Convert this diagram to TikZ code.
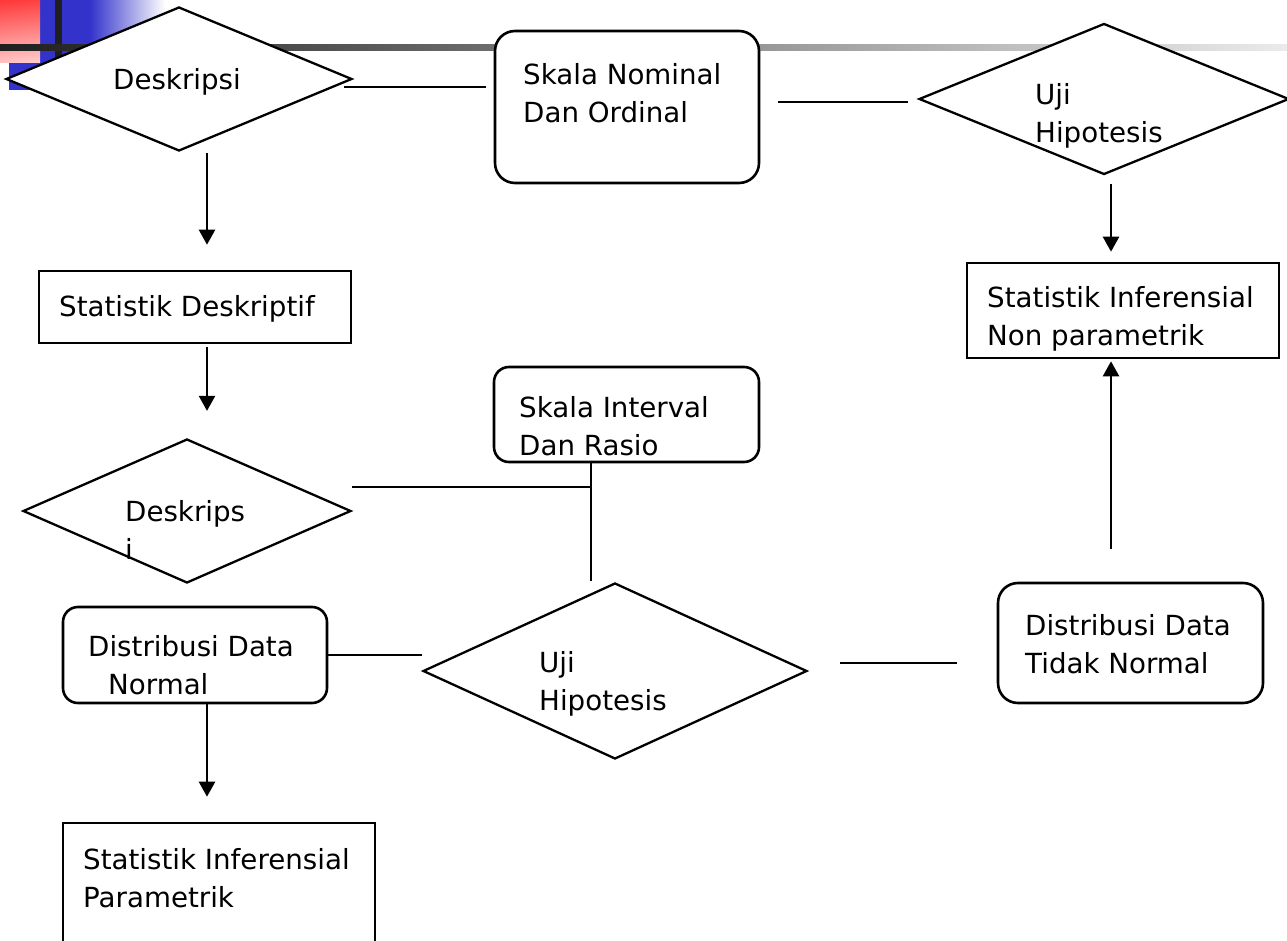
\documentclass[tikz,border=0pt]{standalone}
\usepackage{fontspec}
\setmainfont{DejaVu Sans}
\usetikzlibrary{positioning,shapes,shadings,arrows.meta}
\definecolor{slideblue}{RGB}{51,51,204}
\definecolor{slidered}{RGB}{255,55,55}
\tikzset{
  dec/.style={diamond, draw, fill=white, line width=2.3pt, inner sep=0pt},
  box/.style={rectangle, draw, fill=white, line width=2.6pt, inner sep=0pt},
  rbox/.style={box, rounded corners=20pt},
  txt/.style={anchor=north west, inner sep=0pt, align=left, font=\fontsize{27.7}{38}\selectfont},
  ln/.style={line width=2.4pt},
  arr/.style={line width=2.4pt, -{Triangle[width=16pt,length=15pt]}}
}
\begin{document}
\begin{tikzpicture}[x=1pt,y=-1pt]
\clip (0,0) rectangle (1287,941);
\fill[white] (0,0) rectangle (1287,941);
% slide corner
\fill[slideblue] (9,0) rectangle (90,90);
\shade[left color=slideblue, right color=white] (90,0) rectangle (165,90);
\shade[upper left=slidered, upper right=slidered!95!white, lower left=slidered!30!white, lower right=slidered!25!white] (0,0) rectangle (40,63);
\fill[black!88] (55,0) rectangle (62,62);
\shade[left color=black!88, right color=black!8] (0,45) rectangle (1287,51);

% shapes
\node[dec, minimum width=346, minimum height=144] (d1) at (179,79) {};
\node[rbox, minimum width=264, minimum height=152] (nom) at (627,107) {};
\node[dec, minimum width=370, minimum height=151] (d2) at (1104,99) {};
\node[box, minimum width=312, minimum height=95] (snon) at (1123,310.5) {};
\node[box, minimum width=312, minimum height=72] (sdesk) at (195,307) {};
\node[dec, minimum width=328, minimum height=144] (d4) at (187,511) {};
\node[rbox, rounded corners=15pt, minimum width=265, minimum height=95] (itv) at (626.5,414.5) {};
\node[dec, minimum width=384, minimum height=176] (d3) at (615,671) {};
\node[rbox, rounded corners=15pt, minimum width=264, minimum height=96] (dnorm) at (195,655) {};
\node[rbox, minimum width=265, minimum height=120] (dtnorm) at (1130.5,643) {};
\node[box, minimum width=312, minimum height=145] (spar) at (219,895.5) {};

% texts
\node[txt] (tdesk) at (113,68) {Deskripsi};
\node[txt] (tnom) at (523,63) {Skala Nominal\\Dan Ordinal};
\node[txt] (td2) at (1035,83) {Uji\\Hipotesis};
\node[txt] (tsnon) at (987,286) {Statistik Inferensial\\Non parametrik};
\node[txt] (tsdesk) at (59,295) {Statistik Deskriptif};
\node[txt] (td4) at (125,500) {Deskrips\\i};
\node[txt] (titv) at (519,396) {Skala Interval\\Dan Rasio};
\node[txt] (td3) at (539,651) {Uji\\Hipotesis};
\node[txt] (tdn) at (88,635) {Distribusi Data\\\hspace*{20pt}Normal};
\node[txt] (tdt) at (1025,614) {Distribusi Data\\Tidak Normal};
\node[txt] (tspar) at (83,848) {Statistik Inferensial\\Parametrik};

% connectors
\draw[arr] ([shift={(28,1)}]d1.south) -- ([shift={(12,-25)}]sdesk.north);
\draw[arr] ([shift={(12,3)}]sdesk.south) -- ([shift={(20,-27)}]d4.north);
\draw[ln] ([shift={(-9,8)}]d1.east) -- ([shift={(-8,-20)}]nom.west);
\draw[ln] ([shift={(18,-5)}]nom.east) -- ([shift={(-10,3)}]d2.west);
\draw[arr] ([shift={(7,8.5)}]d2.south) -- ([shift={(-12,-10)}]snon.north);
\draw[arr] ([shift={(-19.5,-33)}]dtnorm.north) -- ([shift={(-12,2)}]snon.south);
\draw[ln] ([shift={(32,-8)}]d3.east) -- ([shift={(-40,20)}]dtnorm.west);
\draw[ln] (dnorm.east) -- ([shift={(0,-16)}]d3.west);
\draw[arr] ([shift={(12,0)}]dnorm.south) -- ([shift={(-12,-25)}]spar.north);
\draw[ln] ([shift={(0,-24)}]d4.east) -| ([shift={(-35.5,0)}]itv.south);
\draw[ln] ([shift={(-35.5,0)}]itv.south) -- ([shift={(-24,-1)}]d3.north);
\end{tikzpicture}
\end{document}
